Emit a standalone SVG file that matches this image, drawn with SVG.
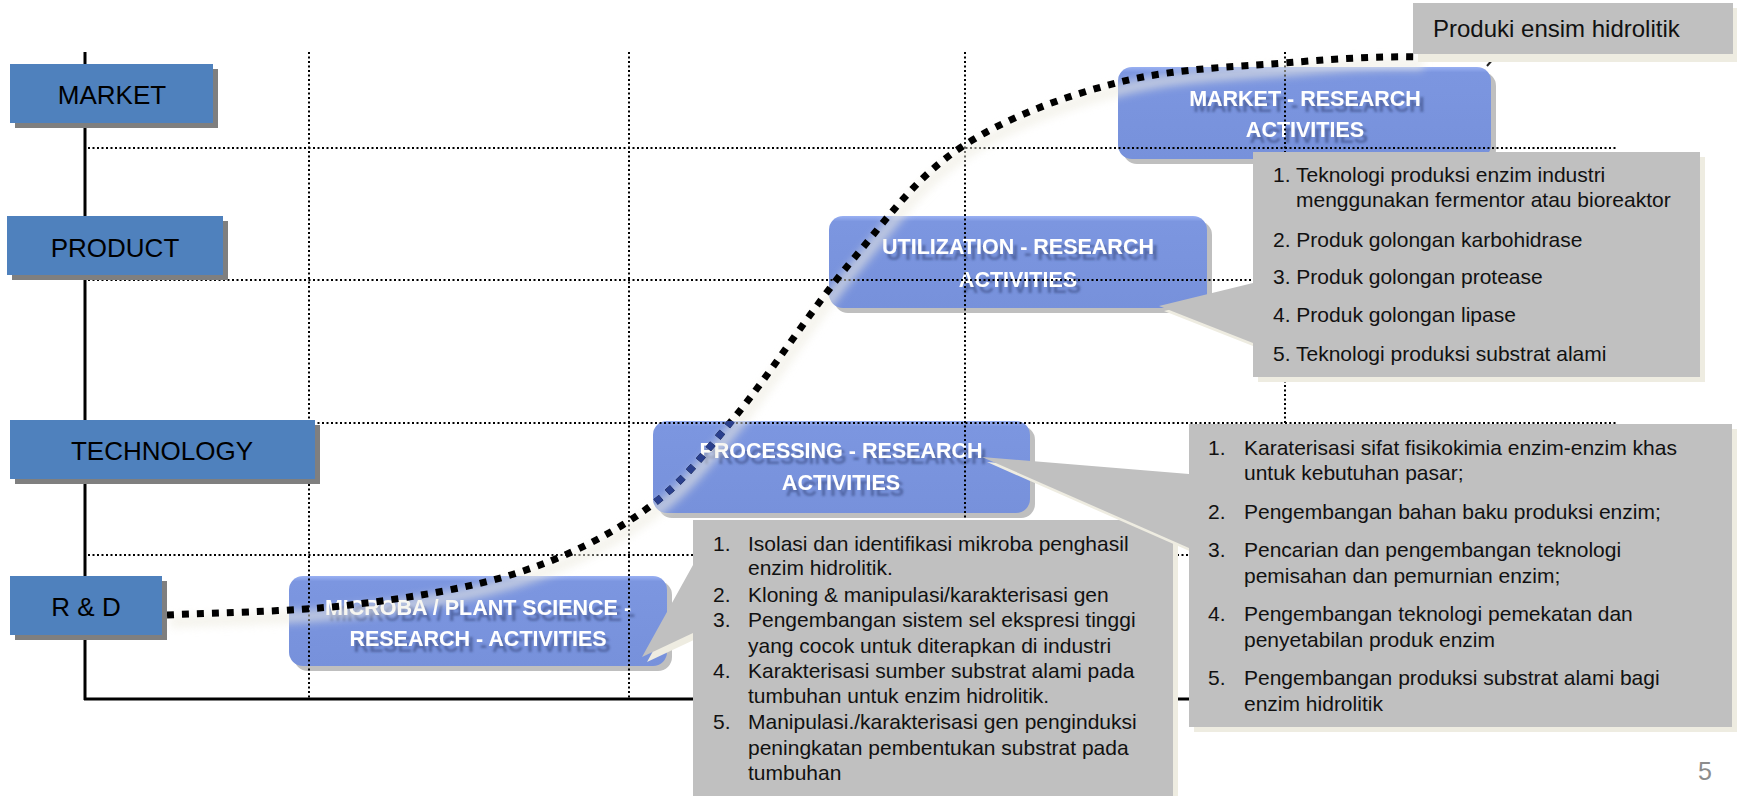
<svg xmlns="http://www.w3.org/2000/svg" width="1737" height="796" viewBox="0 0 1737 796">
<defs>
<style>
.lsh{fill:#7F7F7F}
.lb{fill:#4F81BD}
.lt{font-family:"Liberation Sans",Arial,sans-serif;font-size:26px;fill:#000;text-anchor:middle}
.rsh{fill:#BFBFBF}
.rb{fill:url(#boxg)}
.rt{font-family:"Liberation Sans",Arial,sans-serif;font-weight:bold;font-size:21.5px;fill:#fff;text-anchor:middle;filter:url(#tshadow)}
.co{fill:#C0C0C0}
.cosh{fill:#EEECE1}
.ct{font-family:"Liberation Sans",Arial,sans-serif;font-size:21px;fill:#111}
.grid{stroke:#000;stroke-width:2;stroke-dasharray:2 2.5;fill:none}
.axis{stroke:#000;stroke-width:3;fill:none}
.curve{fill:none;stroke:#000;stroke-width:7;stroke-dasharray:7 8}
</style>
<filter id="tshadow" x="-10%" y="-40%" width="125%" height="190%">
<feGaussianBlur in="SourceAlpha" stdDeviation="1.2" result="b"/>
<feOffset in="b" dx="4" dy="6" result="o"/>
<feFlood flood-color="#34457A" flood-opacity="0.55"/>
<feComposite in2="o" operator="in" result="s"/>
<feMerge><feMergeNode in="s"/><feMergeNode in="SourceGraphic"/></feMerge>
</filter>
<filter id="glow" x="-5%" y="-5%" width="110%" height="110%"><feGaussianBlur stdDeviation="4"/></filter>
<linearGradient id="boxg" x1="0" y1="0" x2="0" y2="1">
<stop offset="0" stop-color="#9AB1F3"/>
<stop offset="0.06" stop-color="#7C96E0"/>
<stop offset="1" stop-color="#7791DB"/>
</linearGradient>
<clipPath id="procClip"><rect x="653" y="421" width="377" height="92" rx="14"/></clipPath>
<path id="curvePath" d="M167,615 C197.5,613.3 291.7,612 350,605 C408.3,598 467.8,588.8 517,573 C566.2,557.2 608.8,535.8 645,510 C681.2,484.2 699.8,459.2 734,418 C768.2,376.8 812.3,308 850,263 C887.7,218 915,178.2 960,148 C1005,117.8 1063.8,96.3 1120,82 C1176.2,67.7 1248.5,66.2 1297,62 C1345.5,57.8 1392,56.2 1420,57"/>
</defs>
<rect width="1737" height="796" fill="#fff"/>

<g id="microba-box">
<rect class="rsh" x="294" y="581" width="378" height="90" rx="14"/>
<rect class="rb" x="289" y="576" width="378" height="90" rx="14"/>
<text class="rt" x="478" y="615">MICROBA / PLANT SCIENCE -</text>
<text class="rt" x="478" y="646">RESEARCH - ACTIVITIES</text>
</g>

<g id="processing-box">
<rect class="rsh" x="658" y="426" width="377" height="92" rx="14"/>
<rect class="rb" x="653" y="421" width="377" height="92" rx="14"/>
<text class="rt" x="841" y="458">PROCESSING - RESEARCH</text>
<text class="rt" x="841" y="490">ACTIVITIES</text>
</g>

<g id="utilization-box">
<rect class="rsh" x="834" y="221" width="378" height="92" rx="14"/>
<rect class="rb" x="829" y="216" width="378" height="92" rx="14"/>
<text class="rt" x="1018" y="254">UTILIZATION - RESEARCH</text>
<text class="rt" x="1018" y="287">ACTIVITIES</text>
</g>

<g id="market-research-box">
<rect class="rsh" x="1123" y="72" width="373" height="92" rx="14"/>
<rect class="rb" x="1118" y="67" width="373" height="92" rx="14"/>
<text class="rt" x="1305" y="106">MARKET - RESEARCH</text>
<text class="rt" x="1305" y="137">ACTIVITIES</text>
</g>

<g id="grid">
<line class="grid" x1="88" y1="148" x2="1617" y2="148"/>
<line class="grid" x1="88" y1="280" x2="1617" y2="280"/>
<line class="grid" x1="88" y1="423" x2="1617" y2="423"/>
<line class="grid" x1="88" y1="555" x2="1617" y2="555"/>
<line class="grid" x1="309" y1="52" x2="309" y2="699"/>
<line class="grid" x1="629" y1="52" x2="629" y2="699"/>
<line class="grid" x1="965" y1="52" x2="965" y2="699"/>
<line class="grid" x1="1285" y1="52" x2="1285" y2="699"/>
</g>

<g id="axes">
<line class="axis" x1="85" y1="52" x2="85" y2="700"/>
<line class="axis" x1="84" y1="699" x2="1195" y2="699"/>
</g>

<g id="connectors">
<use href="#curvePath" transform="translate(3,7)" style="fill:none;stroke:#EEECE1;stroke-width:12;opacity:.6;filter:url(#glow)"/>
<use href="#curvePath" class="curve"/>
<g clip-path="url(#procClip)"><use href="#curvePath" class="curve" style="stroke:#2A3F8C"/></g>
<line x1="1487" y1="66" x2="1493" y2="59" stroke="#222" stroke-width="2"/>
</g>

<g id="label-market">
<rect class="lsh" x="15" y="69" width="203" height="59"/>
<rect class="lb" x="10" y="64" width="203" height="59"/>
<text class="lt" x="112" y="104">MARKET</text>
</g>
<g id="label-product">
<rect class="lsh" x="12" y="221" width="216" height="59"/>
<rect class="lb" x="7" y="216" width="216" height="59"/>
<text class="lt" x="115" y="257">PRODUCT</text>
</g>
<g id="label-technology">
<rect class="lsh" x="15" y="425" width="305" height="59"/>
<rect class="lb" x="10" y="420" width="305" height="59"/>
<text class="lt" x="162" y="460">TECHNOLOGY</text>
</g>
<g id="label-rd">
<rect class="lsh" x="15" y="581" width="152" height="59"/>
<rect class="lb" x="10" y="576" width="152" height="59"/>
<text class="lt" x="86" y="616">R &amp; D</text>
</g>

<g id="callout-microba">
<path class="cosh" d="M698,525 H1178 V800 H698 V638 L647,662 L698,570 Z"/>
<path class="co" d="M693,520 H1173 V800 H693 V633 L642,657 L693,565 Z"/>
<text class="ct" x="713" y="551">1.</text><text class="ct" x="748" y="551">Isolasi dan identifikasi mikroba penghasil</text>
<text class="ct" x="748" y="575">enzim hidrolitik.</text>
<text class="ct" x="713" y="602">2.</text><text class="ct" x="748" y="602">Kloning &amp; manipulasi/karakterisasi gen</text>
<text class="ct" x="713" y="627">3.</text><text class="ct" x="748" y="627">Pengembangan sistem sel ekspresi tinggi</text>
<text class="ct" x="748" y="653">yang cocok untuk diterapkan di industri</text>
<text class="ct" x="713" y="678">4.</text><text class="ct" x="748" y="678">Karakterisasi sumber substrat alami pada</text>
<text class="ct" x="748" y="703">tumbuhan untuk enzim hidrolitik.</text>
<text class="ct" x="713" y="729">5.</text><text class="ct" x="748" y="729">Manipulasi./karakterisasi gen penginduksi</text>
<text class="ct" x="748" y="755">peningkatan pembentukan substrat pada</text>
<text class="ct" x="748" y="780">tumbuhan</text>
</g>

<g id="callout-processing">
<path class="cosh" d="M1194,429 H1737 V732 H1194 V553 L987,462 L1194,479 Z"/>
<path class="co" d="M1189,424 H1732 V727 H1189 V548 L982,457 L1189,474 Z"/>
<text class="ct" x="1208" y="455">1.</text><text class="ct" x="1244" y="455">Karaterisasi sifat fisikokimia enzim-enzim khas</text>
<text class="ct" x="1244" y="480">untuk kebutuhan pasar;</text>
<text class="ct" x="1208" y="519">2.</text><text class="ct" x="1244" y="519">Pengembangan bahan baku produksi enzim;</text>
<text class="ct" x="1208" y="557">3.</text><text class="ct" x="1244" y="557">Pencarian dan pengembangan teknologi</text>
<text class="ct" x="1244" y="583">pemisahan dan pemurnian enzim;</text>
<text class="ct" x="1208" y="621">4.</text><text class="ct" x="1244" y="621">Pengembangan teknologi pemekatan dan</text>
<text class="ct" x="1244" y="647">penyetabilan produk enzim</text>
<text class="ct" x="1208" y="685">5.</text><text class="ct" x="1244" y="685">Pengembangan produksi substrat alami bagi</text>
<text class="ct" x="1244" y="711">enzim hidrolitik</text>
</g>

<g id="callout-market">
<path class="cosh" d="M1258,157 H1705 V382 H1258 V348 L1164,311 L1258,288 Z"/>
<path class="co" d="M1253,152 H1700 V377 H1253 V343 L1159,306 L1253,283 Z"/>
<text class="ct" x="1273" y="182">1. Teknologi produksi enzim industri</text>
<text class="ct" x="1296" y="207">menggunakan fermentor atau bioreaktor</text>
<text class="ct" x="1273" y="247">2. Produk golongan karbohidrase</text>
<text class="ct" x="1273" y="284">3. Produk golongan protease</text>
<text class="ct" x="1273" y="322">4. Produk golongan lipase</text>
<text class="ct" x="1273" y="361">5. Teknologi produksi substrat alami</text>
</g>

<g id="callout-produk">
<rect class="cosh" x="1418" y="8" width="320" height="54"/>
<rect class="co" x="1413" y="3" width="320" height="51"/>
<text x="1433" y="37" style="font-family:'Liberation Sans',Arial,sans-serif;font-size:24px;fill:#111">Produki ensim hidrolitik</text>
</g>

<text x="1705" y="780" style="font-family:'Liberation Sans',Arial,sans-serif;font-size:25px;fill:#8C8C8C;text-anchor:middle">5</text>
</svg>
